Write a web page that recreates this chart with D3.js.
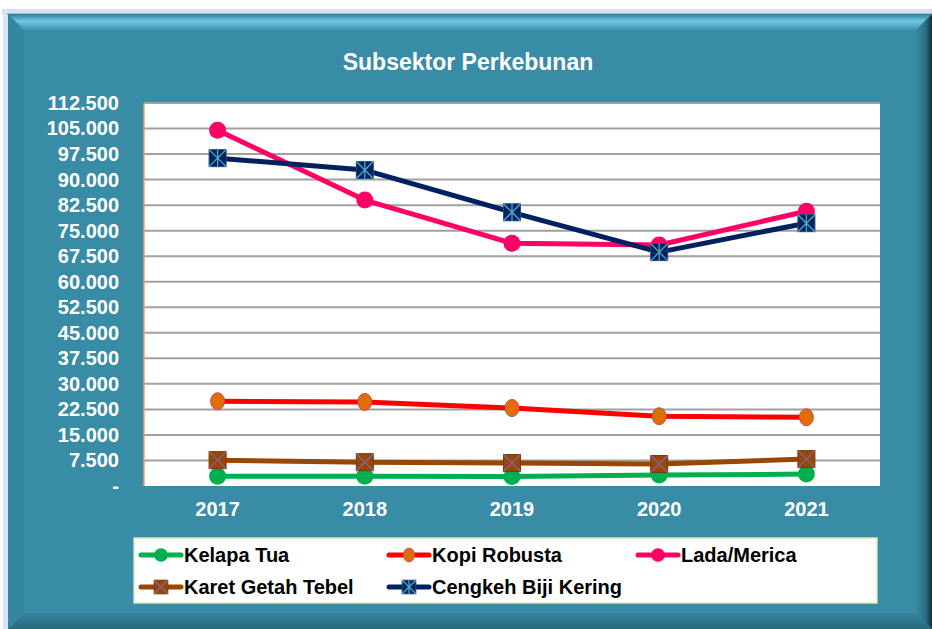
<!DOCTYPE html>
<html>
<head>
<meta charset="utf-8">
<script src="https://cdn.jsdelivr.net/npm/d3@7"></script>
<style>
  body { margin: 0; background: #fff; }
  svg { display: block; font-family: Arial, "Liberation Sans", sans-serif; }
</style>
</head>
<body>
<div id="chart"></div>
<script>
// data
var years = ['2017', '2018', '2019', '2020', '2021'];
var yTicks = [0, 7500, 15000, 22500, 30000, 37500, 45000, 52500, 60000, 67500, 75000, 82500, 90000, 97500, 105000, 112500];
var kelapaTua = [2900, 2900, 2800, 3200, 3500];
var kopiRobusta = [24900, 24700, 22900, 20500, 20200];
var ladaMerica = [104500, 84000, 71300, 70800, 80700];
var karetGetah = [7600, 7000, 6750, 6450, 7900];
var cengkeh = [96300, 92800, 80400, 68700, 77200];

var series = [
  { name: 'Kelapa Tua', values: kelapaTua, line: '#00b050', marker: 'circle', fill: '#00b050', stroke: '#00b050' },
  { name: 'Kopi Robusta', values: kopiRobusta, line: '#ff0000', marker: 'ellipse', fill: '#e36c0a', stroke: '#c0504d' },
  { name: 'Lada/Merica', values: ladaMerica, line: '#ff0066', marker: 'circle', fill: '#ff0066', stroke: '#ff0066' },
  { name: 'Karet Getah Tebel', values: karetGetah, line: '#974706', marker: 'xsquare', fill: '#974706', stroke: '#8064a2' },
  { name: 'Cengkeh Biji Kering', values: cengkeh, line: '#002060', marker: 'starsquare', fill: '#002060', stroke: '#4bacc6' }
];
// draw order in the plot (pink under navy)
var drawOrder = [0, 3, 1, 2, 4];

var W = 932, H = 629;
var TEAL = '#398ca6';
var FONT = 'Arial, "Liberation Sans", sans-serif';
var plot = { left: 144, right: 880, top: 103, bottom: 486 };

var svg = d3.select('#chart').append('svg')
  .attr('width', W).attr('height', H);

// frame with bevel
var fx0 = 8, fy0 = 14, fx1 = 932, fy1 = 629, bev = 16;
var defs = svg.append('defs');
var gTop = defs.append('linearGradient').attr('id', 'gTop').attr('x1', 0).attr('y1', 0).attr('x2', 0).attr('y2', 1);
gTop.append('stop').attr('offset', 0).attr('stop-color', '#2f7f98');
gTop.append('stop').attr('offset', 0.45).attr('stop-color', '#6cc8e2');
gTop.append('stop').attr('offset', 1).attr('stop-color', '#3f93ad');
var gRight = defs.append('linearGradient').attr('id', 'gRight').attr('x1', 0).attr('y1', 0).attr('x2', 1).attr('y2', 0);
gRight.append('stop').attr('offset', 0).attr('stop-color', '#378aa3');
gRight.append('stop').attr('offset', 0.6).attr('stop-color', '#2a6f85');
gRight.append('stop').attr('offset', 1).attr('stop-color', '#0f3340');
var gBot = defs.append('linearGradient').attr('id', 'gBot').attr('x1', 0).attr('y1', 0).attr('x2', 0).attr('y2', 1);
gBot.append('stop').attr('offset', 0).attr('stop-color', '#37869e');
gBot.append('stop').attr('offset', 1).attr('stop-color', '#286a7e');

svg.append('rect').attr('x', 2).attr('y', 9).attr('width', W).attr('height', 6).attr('fill', '#cfe0f7');
svg.append('rect').attr('x', 3).attr('y', 9).attr('width', 6).attr('height', H).attr('fill', '#d7e5f8');
svg.append('rect').attr('x', fx0 - 1).attr('y', fy0 - 1).attr('width', fx1 - fx0 + 1).attr('height', 2).attr('fill', '#b8b8b8');
svg.append('rect').attr('x', fx0).attr('y', fy0).attr('width', fx1 - fx0).attr('height', fy1 - fy0).attr('fill', TEAL);
svg.append('polygon')
  .attr('points', [[fx0, fy0], [fx1, fy0], [fx1 - bev, fy0 + bev], [fx0 + bev, fy0 + bev]].join(' '))
  .attr('fill', 'url(#gTop)');
svg.append('polygon')
  .attr('points', [[fx0, fy0], [fx0 + bev, fy0 + bev], [fx0 + bev, fy1 - bev], [fx0, fy1]].join(' '))
  .attr('fill', '#3587a0');
svg.append('polygon')
  .attr('points', [[fx1, fy0], [fx1, fy1], [fx1 - bev, fy1 - bev], [fx1 - bev, fy0 + bev]].join(' '))
  .attr('fill', 'url(#gRight)');
svg.append('polygon')
  .attr('points', [[fx0, fy1], [fx0 + bev, fy1 - bev], [fx1 - bev, fy1 - bev], [fx1, fy1]].join(' '))
  .attr('fill', 'url(#gBot)');

// title
svg.append('text')
  .attr('x', 468).attr('y', 70)
  .attr('text-anchor', 'middle')
  .attr('fill', '#fff')
  .attr('font-size', 23).attr('font-weight', 'bold')
  .text('Subsektor Perkebunan');

// scales
var x = d3.scaleBand().domain(years).range([plot.left, plot.right]);
var y = d3.scaleLinear().domain([0, 112500]).range([plot.bottom, plot.top]);

svg.append('rect')
  .attr('x', plot.left).attr('y', plot.top)
  .attr('width', plot.right - plot.left).attr('height', plot.bottom - plot.top)
  .attr('fill', '#fff');

// gridlines
svg.append('g')
  .selectAll('line').data(yTicks.filter(function (d) { return d > 0; }))
  .join('line')
  .attr('x1', plot.left).attr('x2', plot.right)
  .attr('y1', function (d) { return y(d); }).attr('y2', function (d) { return y(d); })
  .attr('stroke', '#a0a0a0').attr('stroke-width', 2);

svg.append('line')
  .attr('x1', plot.left).attr('x2', plot.left)
  .attr('y1', plot.top).attr('y2', plot.bottom)
  .attr('stroke', '#f5a35a').attr('stroke-width', 1.5);

// y axis labels
var yAxis = d3.axisLeft(y).tickValues(yTicks).tickSize(0).tickPadding(25)
  .tickFormat(function (d) { return d === 0 ? '-' : d3.format(',')(d).replace(/,/g, '.'); });
var gy = svg.append('g').attr('transform', 'translate(' + plot.left + ',0)').call(yAxis);
gy.select('.domain').remove();
gy.selectAll('text')
  .attr('fill', '#fff').attr('font-size', 20).attr('font-weight', 'bold')
  .attr('font-family', FONT);

// x axis labels
var xAxis = d3.axisBottom(x).tickSize(0).tickPadding(16);
var gx = svg.append('g').attr('transform', 'translate(0,' + plot.bottom + ')').call(xAxis);
gx.select('.domain').remove();
gx.selectAll('text')
  .attr('fill', '#fff').attr('font-size', 20).attr('font-weight', 'bold')
  .attr('font-family', FONT);

var cx = function (i) { return x(years[i]) + x.bandwidth() / 2; };

function drawMarker(g, s, px, py, scale) {
  var k = scale || 1;
  if (s.marker === 'circle') {
    g.append('circle').attr('cx', px).attr('cy', py).attr('r', 8.5 * k)
      .attr('fill', s.fill);
  } else if (s.marker === 'ellipse') {
    g.append('ellipse').attr('cx', px).attr('cy', py).attr('rx', 7 * k).attr('ry', 8.5 * k)
      .attr('fill', s.fill).attr('stroke', s.stroke).attr('stroke-width', 1);
  } else {
    var h = 8.5 * k;
    g.append('rect').attr('x', px - h).attr('y', py - h).attr('width', 2 * h).attr('height', 2 * h)
      .attr('fill', s.fill).attr('stroke', s.marker === 'starsquare' ? '#1f4e79' : '#7a3a05').attr('stroke-width', 1);
    var d = 'M' + (px - h) + ',' + (py - h) + 'L' + (px + h) + ',' + (py + h) +
            'M' + (px + h) + ',' + (py - h) + 'L' + (px - h) + ',' + (py + h);
    if (s.marker === 'starsquare') d += 'M' + px + ',' + (py - h) + 'L' + px + ',' + (py + h);
    g.append('path').attr('d', d).attr('stroke', s.stroke).attr('stroke-width', 1.3).attr('fill', 'none');
  }
}

var line = d3.line()
  .x(function (d, i) { return cx(i); })
  .y(function (d) { return y(d); });

var gLines = svg.append('g');
drawOrder.forEach(function (si) {
  var s = series[si];
  var g = gLines.append('g');
  g.append('path').attr('d', line(s.values))
    .attr('fill', 'none').attr('stroke', s.line).attr('stroke-width', 5)
    .attr('stroke-linejoin', 'round');
  s.values.forEach(function (v, i) { drawMarker(g, s, cx(i), y(v)); });
});

// legend
var lg = svg.append('g');
lg.append('rect').attr('x', 134).attr('y', 538).attr('width', 743).attr('height', 65)
  .attr('fill', '#fff').attr('stroke', '#d7e4bd').attr('stroke-width', 1.5);
var legendPos = [[141, 555], [389, 555], [638, 555], [141, 587], [389, 587]];
series.forEach(function (s, i) {
  var p = legendPos[i];
  var g = lg.append('g');
  g.append('line').attr('x1', p[0]).attr('x2', p[0] + 40).attr('y1', p[1]).attr('y2', p[1])
    .attr('stroke', s.line).attr('stroke-width', 5).attr('stroke-linecap', 'round');
  drawMarker(g, s, p[0] + 20, p[1], 0.8);
  g.append('text').attr('x', p[0] + 43).attr('y', p[1] + 7)
    .attr('font-size', 20).attr('font-weight', 'bold').attr('fill', '#000')
    .attr('font-family', FONT)
    .text(s.name);
});
</script>
</body>
</html>
